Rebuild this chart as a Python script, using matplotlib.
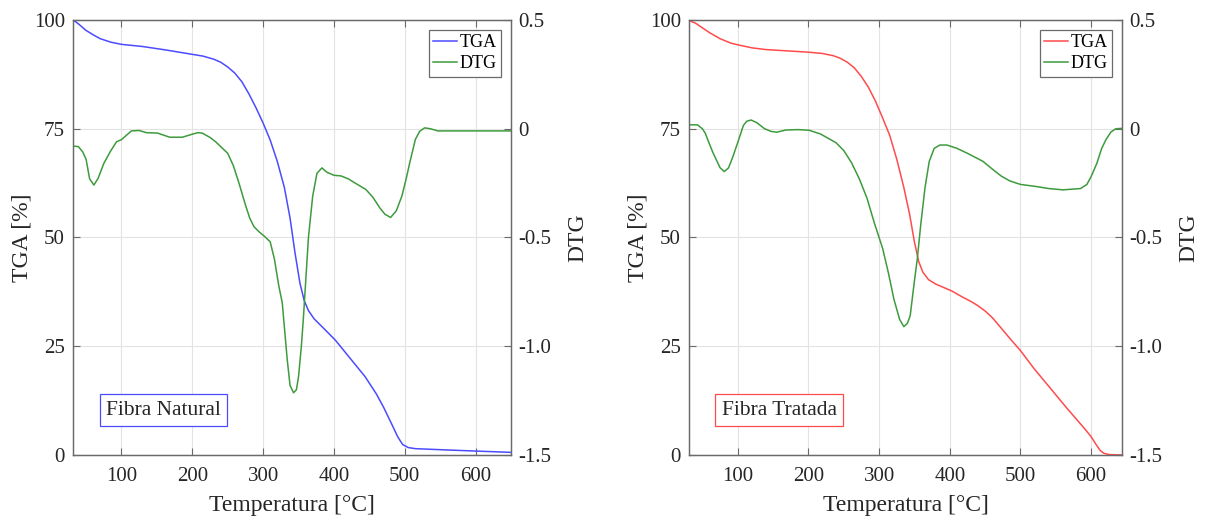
#!/usr/bin/env python3
"""TGA / DTG curves for natural and treated fibre."""

import matplotlib
matplotlib.use("Agg")
import matplotlib.pyplot as plt

# --- Fibra Natural ---
nat_tga_temp = [32, 40, 50, 60, 70, 85, 100, 130, 163, 200, 215, 230, 240, 250, 260, 270,
                280, 290, 300, 310, 320, 330, 338, 345, 352, 358, 364, 372, 385, 402, 425,
                444, 460, 470, 481, 490, 497, 505, 515, 530, 560, 600, 650]
nat_tga = [100, 99.0, 97.6, 96.6, 95.7, 94.9, 94.4, 93.9, 93.1, 92.1, 91.7, 91.0, 90.3,
           89.2, 87.8, 85.8, 83.0, 79.8, 76.3, 72.4, 67.5, 61.5, 54.5, 46.5, 39.5, 35.5,
           33.2, 31.3, 29.2, 26.4, 21.8, 18.0, 14.0, 11.0, 7.3, 4.2, 2.4, 1.7, 1.45, 1.35,
           1.15, 0.9, 0.6]

nat_dtg_temp = [32, 39, 45, 50, 55, 61, 67, 75, 84, 93, 100, 107, 114, 125, 135, 151, 160,
                168, 186, 200, 208, 214, 225, 233, 250, 258, 266, 275, 281, 287, 294, 302,
                310, 316, 322, 327, 334, 338, 343, 347, 350, 354, 357, 364, 370, 376, 383,
                390, 400, 410, 420, 429, 445, 455, 465, 472, 480, 488, 496, 502, 507, 515,
                521, 528, 536, 547, 600, 650]
nat_dtg = [-0.08, -0.082, -0.105, -0.14, -0.23, -0.259, -0.228, -0.16, -0.106, -0.06, -0.05,
           -0.03, -0.01, -0.008, -0.018, -0.02, -0.03, -0.039, -0.039, -0.025, -0.018, -0.02,
           -0.04, -0.06, -0.113, -0.17, -0.251, -0.35, -0.41, -0.45, -0.473, -0.495, -0.52,
           -0.6, -0.72, -0.8, -1.06, -1.18, -1.214, -1.2, -1.14, -1.0, -0.864, -0.5, -0.31,
           -0.205, -0.18, -0.2, -0.214, -0.217, -0.23, -0.248, -0.279, -0.315, -0.365,
           -0.393, -0.408, -0.378, -0.309, -0.23, -0.157, -0.049, -0.012, 0.004, 0.0,
           -0.01, -0.01, -0.01]

# --- Fibra Tratada ---
tra_tga_temp = [32, 40, 50, 60, 75, 90, 100, 120, 140, 160, 200, 220, 235, 245, 255, 265,
                275, 285, 295, 305, 315, 325, 335, 343, 350, 356, 362, 370, 380, 390, 403,
                418, 430, 440, 450, 460, 470, 485, 500, 520, 540, 566, 590, 600, 607, 613,
                618, 625, 635, 645]
tra_tga = [99.8, 99.3, 98.2, 97.1, 95.7, 94.7, 94.3, 93.6, 93.2, 93.0, 92.6, 92.3, 91.8,
           91.2, 90.3, 89.0, 87.0, 84.5, 81.3, 77.5, 73.5, 68.0, 61.5, 55.5, 49.0, 44.5,
           42.0, 40.3, 39.3, 38.6, 37.7, 36.3, 35.3, 34.3, 33.1, 31.6, 29.7, 26.8, 24.0,
           19.7, 15.8, 10.7, 6.2, 4.2, 2.4, 1.0, 0.4, 0.1, 0.03, 0.0]

tra_dtg_temp = [32, 43, 50, 54, 60, 65, 75, 81, 87, 93, 100, 108, 113, 119, 127, 138, 147,
                155, 168, 185, 201, 217, 239, 250, 261, 272, 283, 293, 305, 313, 321, 329,
                335, 340, 344, 350, 354, 359, 365, 371, 378, 386, 396, 410, 425, 447, 460,
                473, 485, 500, 523, 540, 560, 585, 594, 600, 608, 615, 621, 628, 635, 645]
tra_dtg = [0.018, 0.018, 0.0, -0.02, -0.07, -0.11, -0.179, -0.197, -0.18, -0.13, -0.064,
           0.015, 0.035, 0.04, 0.028, 0.0, -0.012, -0.016, -0.006, -0.004, -0.007, -0.024,
           -0.064, -0.1, -0.156, -0.23, -0.32, -0.43, -0.55, -0.66, -0.784, -0.876, -0.91,
           -0.895, -0.86, -0.7, -0.6, -0.44, -0.27, -0.15, -0.09, -0.075, -0.075, -0.09,
           -0.113, -0.15, -0.185, -0.218, -0.24, -0.256, -0.266, -0.275, -0.281, -0.275,
           -0.256, -0.22, -0.16, -0.09, -0.05, -0.015, 0.0, 0.002]

tga_ticks = [0, 25, 50, 75, 100]
dtg_ticks = [-1.5, -1.0, -0.5, 0, 0.5]
dtg_tick_labels = ["-1.5", "-1.0", "-0.5", "0", "0.5"]
temp_ticks = [100, 200, 300, 400, 500, 600]

GREEN = "#3d9b3d"
AXIS_GRAY = "#6a6a6a"


def draw_panel(fig, rect, xlim, t_tga, tga, t_dtg, dtg, tga_color, name):
    ax = fig.add_axes(rect)
    ax2 = ax.twinx()

    l1, = ax.plot(t_tga, tga, color=tga_color, lw=1.1)
    l2, = ax2.plot(t_dtg, dtg, color=GREEN, lw=1.1)

    ax.set_xlim(*xlim)
    ax.set_ylim(0, 100)
    ax2.set_ylim(-1.5, 0.5)
    ax.set_xticks(temp_ticks)
    ax.set_yticks(tga_ticks)
    ax2.set_yticks(dtg_ticks)
    ax2.set_yticklabels(dtg_tick_labels)

    ax.grid(True, color="#e3e3e3", lw=0.8)
    for a in (ax, ax2):
        for s in a.spines.values():
            s.set_color(AXIS_GRAY)
            s.set_linewidth(0.9)
    ax.tick_params(axis="x", direction="in", top=True, length=5, pad=9,
                   color=AXIS_GRAY, labelsize=15, labelcolor="#262626")
    ax.tick_params(axis="y", direction="in", length=5, pad=6,
                   color=AXIS_GRAY, labelsize=15, labelcolor="#262626")
    ax2.tick_params(axis="y", direction="in", length=5, pad=5,
                    color=AXIS_GRAY, labelsize=15, labelcolor="#262626")

    ax.set_xlabel("Temperatura [°C]", fontsize=17, color="#262626", labelpad=6)
    ax.set_ylabel("TGA [%]", fontsize=17, color="#262626", labelpad=1)
    ax2.set_ylabel("DTG", fontsize=17, color="#262626", labelpad=12)

    leg = ax2.legend([l1, l2], ["TGA", "DTG"], loc="upper right", fontsize=13,
                     fancybox=False, edgecolor=AXIS_GRAY, framealpha=1,
                     handlelength=1.3, handletextpad=0.15, borderpad=0.25,
                     labelspacing=0.2, borderaxespad=0.55)
    leg.get_frame().set_linewidth(0.9)

    ax.text(0.075, 0.103, name, transform=ax.transAxes, fontsize=15.5, va="center",
            ha="left", color="#262626",
            bbox=dict(boxstyle="square,pad=0.3", facecolor="white",
                      edgecolor=tga_color, lw=0.9))


def main():
    plt.rcParams["font.family"] = ["Liberation Serif", "DejaVu Serif"]
    fig = plt.figure(figsize=(12.08, 5.22), dpi=100)

    draw_panel(fig, [0.0607, 0.1284, 0.3623, 0.8333], (32, 650),
               nat_tga_temp, nat_tga, nat_dtg_temp, nat_dtg, "#4b4bff", "Fibra Natural")
    draw_panel(fig, [0.5706, 0.1284, 0.3584, 0.8333], (31.5, 644),
               tra_tga_temp, tra_tga, tra_dtg_temp, tra_dtg, "#ff4b4b", "Fibra Tratada")

    fig.savefig("out.png", dpi=100)


if __name__ == "__main__":
    main()
